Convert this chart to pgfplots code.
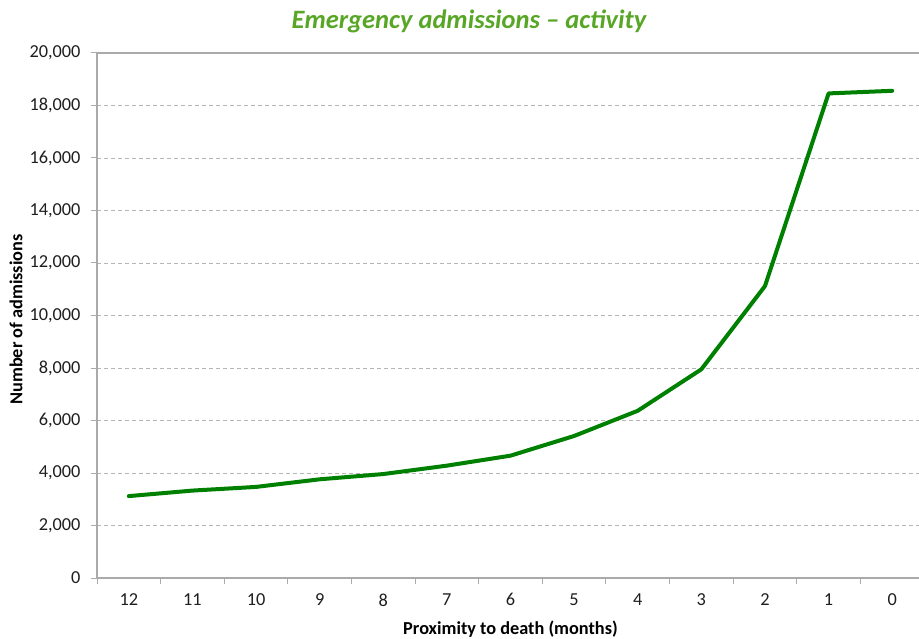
\documentclass[border=0pt]{standalone}
\usepackage{pgfplots}
\pgfplotsset{compat=1.18}
\usepackage{fontspec}
\setmainfont{Carlito}
\definecolor{linegreen}{RGB}{0,128,0}
\definecolor{titlegreen}{RGB}{88,166,38}
\definecolor{axisgray}{RGB}{170,170,170}
\definecolor{gridgray}{RGB}{180,180,180}
\definecolor{textgray}{RGB}{30,30,30}

\begin{document}
\begin{tikzpicture}[x=1pt,y=1pt]
\path[use as bounding box] (0,0) rectangle (919,638);
\node[font=\fontsize{26.5}{30}\selectfont\bfseries\itshape, text=titlegreen]
  at (469,617) {Emergency admissions – activity};
\begin{axis}[
  at={(97pt,60pt)}, anchor=south west,
  scale only axis,
  width=827pt, height=525pt,
  xmin=-0.5, xmax=12.5,
  ymin=0, ymax=20000,
  axis x line*=bottom, axis y line*=left,
  axis line style={axisgray, line width=1.2pt},
  xtick={0,...,12},
  xticklabels={12,11,10,9,8,7,6,5,4,3,2,1,0},
  major x tick style={draw=none},
  minor xtick={-0.5,0.5,...,12.5},
  minor x tick style={axisgray, line width=1pt},
  minor tick length=6pt,
  ytick={0,2000,...,20000},
  major y tick style={axisgray, line width=1pt},
  major tick length=6pt,
  tick align=outside,
  ymajorgrids,
  major grid style={gridgray, dash pattern=on 4pt off 3pt, line width=0.9pt},
  tick label style={font=\fontsize{18.3}{21}\selectfont, text=textgray},
  yticklabel style={xshift=-7pt},
  xticklabel style={yshift=-6pt},
  /pgf/number format/.cd, 1000 sep={,}, assume math mode=true,
  /pgfplots/.cd,
  scaled y ticks=false,
  xlabel={\bfseries Proximity to death (months)},
  ylabel={\bfseries Number of admissions},
  label style={font=\fontsize{18.3}{21}\selectfont\bfseries, text=black},
  xlabel style={at={(rel axis cs:0.5,0)}, anchor=north, yshift=-39pt},
  ylabel style={at={(rel axis cs:0,0.5)}, anchor=south, xshift=-4pt, yshift=71pt},
  clip=false,
]
\draw[axisgray, line width=1.8pt] (rel axis cs:0,1) -- (rel axis cs:1,1);
\addplot[linegreen, line width=4pt, line join=round, line cap=round] coordinates {
  (0,3120) (1,3330) (2,3470) (3,3760) (4,3960) (5,4280) (6,4660)
  (7,5410) (8,6370) (9,7950) (10,11120) (11,18460) (12,18560)
};
\end{axis}
\end{tikzpicture}
\end{document}
